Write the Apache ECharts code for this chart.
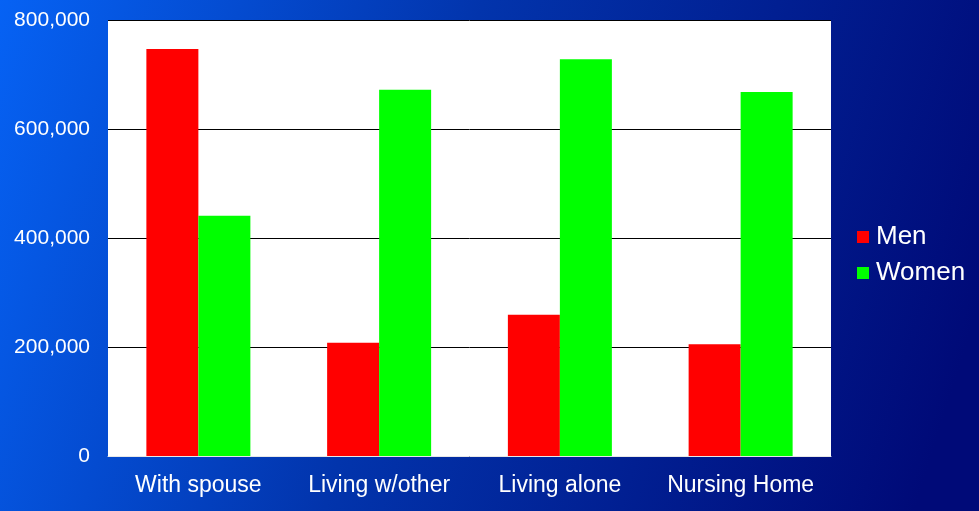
<!DOCTYPE html>
<html><head><meta charset="utf-8">
<script src="https://cdn.jsdelivr.net/npm/echarts@6/dist/echarts.min.js"></script>
<style>html,body{margin:0;padding:0;}#c{width:979px;height:511px;}</style>
</head><body><div id="c"></div>
<script>
const categories = ['With spouse', 'Living w/other', 'Living alone', 'Nursing Home'];
const men = [747000, 208000, 259000, 205000];
const women = [441000, 672000, 728000, 668000];
const yTicks = { min: 0, max: 800000, interval: 200000 };

const chart = echarts.init(document.getElementById('c'));
chart.setOption({
  backgroundColor: new echarts.graphic.LinearGradient(0, 0, 1, 0.6, [
    { offset: 0, color: '#0662f4' },
    { offset: 0.45, color: '#0234ac' },
    { offset: 1, color: '#000a78' }
  ]),
  textStyle: { fontFamily: 'Liberation Sans, Arial, sans-serif' },
  animation: false,
  grid: { left: 108, right: 148, top: 20, bottom: 55, show: true, backgroundColor: '#ffffff', borderWidth: 0, containLabel: false },
  legend: {
    orient: 'vertical', left: 852, top: 219,
    itemWidth: 12, itemHeight: 12, itemGap: 10,
    icon: 'rect',
    textStyle: { color: '#ffffff', fontSize: 26, fontFamily: 'Liberation Sans, Arial, sans-serif', padding: [0, 0, 0, 2] },
    data: ['Men', 'Women']
  },
  xAxis: {
    type: 'category', data: categories,
    axisLine: { show: true, lineStyle: { color: '#e8e8e8', width: 1 } },
    axisTick: { show: false },
    axisLabel: { color: '#ffffff', fontSize: 23, margin: 18, interval: 0, hideOverlap: false }
  },
  yAxis: {
    type: 'value', min: yTicks.min, max: yTicks.max, interval: yTicks.interval,
    axisLine: { show: false }, axisTick: { show: false },
    splitLine: { show: true, lineStyle: { color: '#000000', width: 1 } },
    axisLabel: { color: '#ffffff', fontSize: 21, margin: 18,
      formatter: v => v.toLocaleString('en-US') }
  },
  series: [
    { name: 'Men', type: 'bar', data: men, barWidth: 52, barGap: '0%', itemStyle: { color: '#ff0000' } },
    { name: 'Women', type: 'bar', data: women, barWidth: 52, itemStyle: { color: '#00ff00' } }
  ]
});
</script></body></html>
